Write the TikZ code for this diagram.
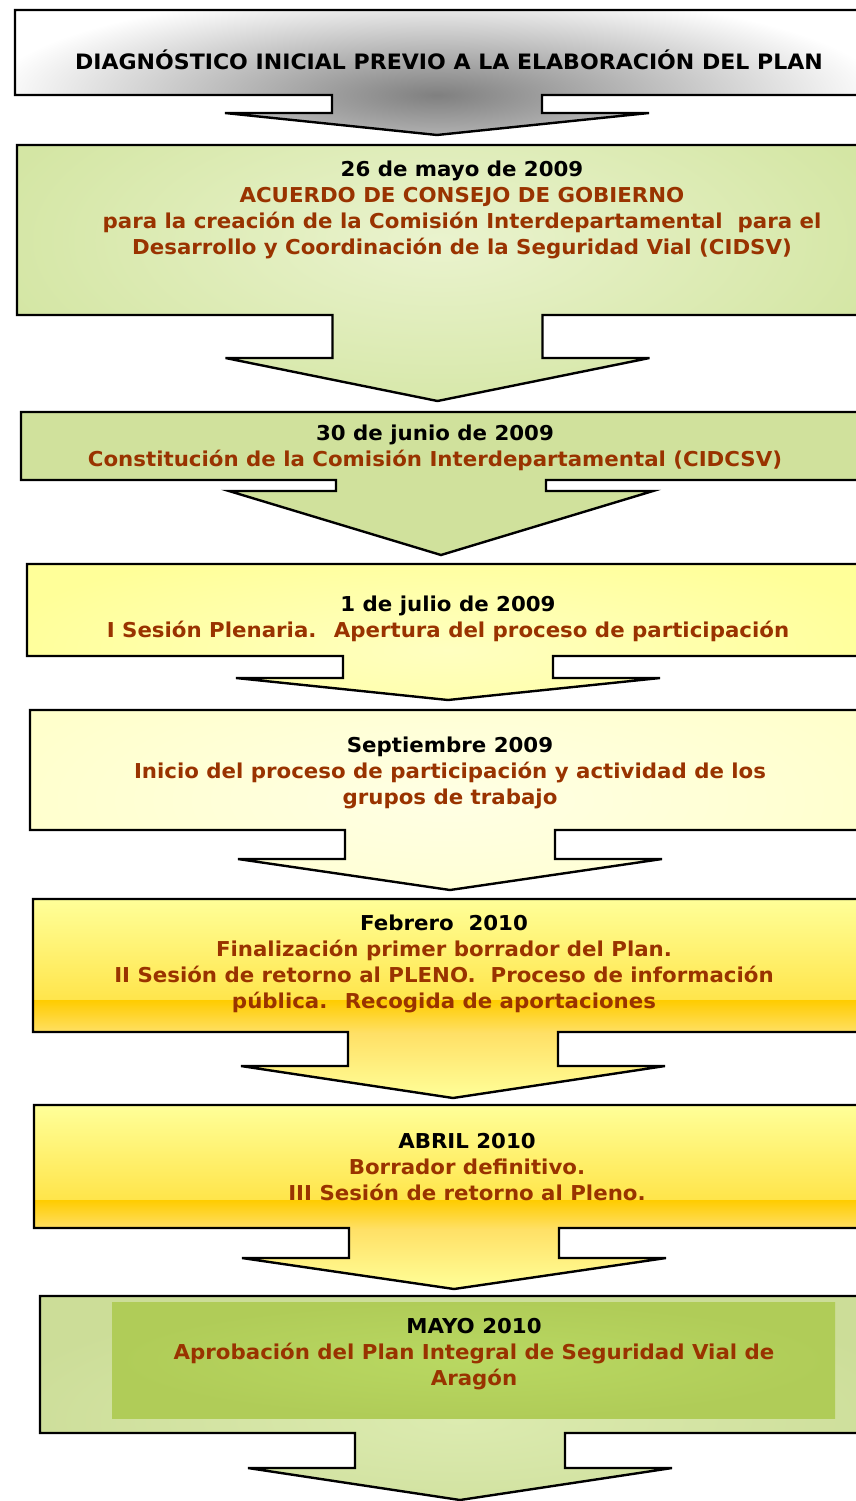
\documentclass[tikz,border=0pt]{standalone}
\usepackage{fontspec}
\setmainfont[FakeStretch=1.04]{DejaVu Sans}
\usepackage{tikz}

\definecolor{rojo}{HTML}{993300}
\definecolor{verdeA}{HTML}{D4E6A4}
\definecolor{verdeB}{HTML}{EAF3CE}
\definecolor{verdeC}{HTML}{D0E19C}
\definecolor{verdeD}{HTML}{CCDD98}
\definecolor{verdeE}{HTML}{DCEBB0}
\definecolor{verdeF}{HTML}{B0CC58}
\definecolor{verdeG}{HTML}{B9D862}
\definecolor{amarA}{HTML}{FFFF99}
\definecolor{amarB}{HTML}{FFFFC0}
\definecolor{amarC}{HTML}{FFFFCC}
\definecolor{amarD}{HTML}{FFFFE4}
\definecolor{naranja}{HTML}{FFCC00}
\definecolor{amarE}{HTML}{FFE066}
\definecolor{sombra}{gray}{0.5}

% glow shadings (outer colour reached at the edge of the shaded area)
\pgfdeclareradialshading{glowdiag}{\pgfpointorigin}{color(0bp)=(sombra); color(25bp)=(white); color(50bp)=(white)}
\pgfdeclareradialshading{glowverde}{\pgfpointorigin}{color(0bp)=(verdeB); color(25bp)=(verdeA); color(50bp)=(verdeA)}
\pgfdeclareradialshading{glowjulio}{\pgfpointorigin}{color(0bp)=(amarB); color(25bp)=(amarA); color(50bp)=(amarA)}
\pgfdeclareradialshading{glowsept}{\pgfpointorigin}{color(0bp)=(amarD); color(25bp)=(amarC); color(50bp)=(amarC)}
\pgfdeclareradialshading{glowmayo}{\pgfpointorigin}{color(0bp)=(verdeE); color(25bp)=(verdeD); color(50bp)=(verdeD)}
\pgfdeclareradialshading{glowinner}{\pgfpointorigin}{color(0bp)=(verdeG); color(25bp)=(verdeF); color(50bp)=(verdeF)}

% box + arrow: left, top, box bottom, centre, stem bottom, tip, style
\newcommand{\stageshape}[7]{%
  \path[stage,#7] (#1,#2) -- ({2*#4-#1},#2) -- ({2*#4-#1},#3)
    -- ({#4+105},#3) -- ({#4+105},#5) -- ({#4+212},#5) -- (#4,#6)
    -- ({#4-212},#5) -- ({#4-105},#5) -- ({#4-105},#3) -- (#1,#3) -- cycle;}

\newcommand{\fecha}[1]{\textcolor{black}{#1}}

\tikzset{
  stage/.style={draw=black, line width=2.4pt, line join=miter},
  txt/.style={align=center, inner sep=0pt, text=rojo,
    font=\bfseries\fontsize{20.5}{26}\selectfont},
}

\begin{document}
\begin{tikzpicture}[x=1pt, y=-1pt]
  \useasboundingbox (0,0) rectangle (856,1501);

  % Stages
  \stageshape{15}{10}{95}{437}{113}{135}{fill=white,
    path picture={\shade[shading=glowdiag] (-10,-10) rectangle (884,200);}} %
  \stageshape{17}{145}{315}{437.5}{358}{401}{fill=verdeA,
    path picture={\shade[shading=glowverde] (-20,50) rectangle (900,430);}} %
  \stageshape{21}{412}{480}{441}{491}{555}{fill=verdeC} %
  \stageshape{27}{564}{656}{448}{678}{700}{fill=amarA,
    path picture={\shade[shading=glowjulio] (-12,540) rectangle (908,760);}} %
  \stageshape{30}{710}{830}{450}{859}{890}{fill=amarC,
    path picture={\shade[shading=glowsept] (-10,650) rectangle (910,950);}} %
  \stageshape{33}{899}{1032}{453}{1066}{1098}{fill=amarA,
    path picture={
      \shade[top color=amarA, bottom color=naranja] (0,899) rectangle (900,1000);
      \shade[top color=naranja, bottom color=amarE] (0,1000) rectangle (900,1033);
      \shade[top color=amarE, bottom color=amarA] (0,1033) rectangle (900,1098);}} %
  \stageshape{34}{1105}{1228}{454}{1258}{1289}{fill=amarA,
    path picture={
      \shade[top color=amarA, bottom color=naranja] (0,1105) rectangle (900,1200);
      \shade[top color=naranja, bottom color=amarE] (0,1200) rectangle (900,1229);
      \shade[top color=amarE, bottom color=amarA] (0,1229) rectangle (900,1289);}} %
  \stageshape{40}{1296}{1433}{460}{1468}{1500}{fill=verdeD,
    path picture={\shade[shading=glowmayo] (-20,1290) rectangle (940,1550);}} %
  \shade[shading=glowinner] (112,1302) rectangle (835,1418); %

  % Texts
  \node[txt, text=black, font=\bfseries\fontsize{21.2}{26}\selectfont] (diag) at (449,60)
    {DIAGNÓSTICO INICIAL PREVIO A LA ELABORACIÓN DEL PLAN}; %
  \node[txt] (may09) at (462,210)
    {\fecha{26 de mayo de 2009}\\ACUERDO DE CONSEJO DE GOBIERNO\\
     para la creación de la Comisión Interdepartamental~ para el\\
     Desarrollo y Coordinación de la Seguridad Vial (CIDSV)}; %
  \node[txt] (jun09) at (435,448)
    {\fecha{30 de junio de 2009}\\Constitución de la Comisión Interdepartamental (CIDCSV)}; %
  \node[txt] (jul09) at (448,619)
    {\fecha{1 de julio de 2009}\\I Sesión Plenaria.~ Apertura del proceso de participación}; %
  \node[txt] (sep09) at (450,773)
    {\fecha{Septiembre 2009}\\Inicio del proceso de participación y actividad de los\\grupos de trabajo}; %
  \node[txt] (feb10) at (444,964)
    {\fecha{Febrero~ 2010}\\Finalización primer borrador del Plan.\\
     II Sesión de retorno al PLENO.~ Proceso de información\\pública.~ Recogida de aportaciones}; %
  \node[txt] (abr10) at (467,1167)
    {\fecha{ABRIL 2010}\\Borrador definitivo.\\III Sesión de retorno al Pleno.}; %
  \node[txt] (may10) at (474,1354)
    {\fecha{MAYO 2010}\\Aprobación del Plan Integral de Seguridad Vial de\\Aragón}; %

\end{tikzpicture}
\end{document}
